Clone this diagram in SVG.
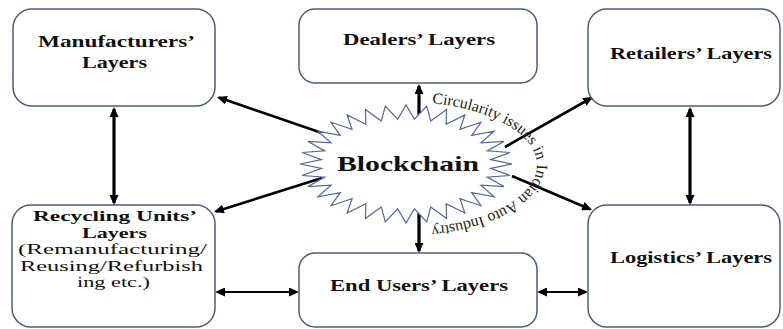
<svg xmlns="http://www.w3.org/2000/svg" width="783" height="329" viewBox="0 0 783 329">
  <style>
    .box { fill: #ffffff; stroke: #4a5d7e; stroke-width: 1.5; }
    .lbl { font-family: "Liberation Serif", "Times New Roman", serif; font-size: 17px; font-weight: bold; fill: #111; text-anchor: middle; }
    .lbs { font-family: "Liberation Serif", "Times New Roman", serif; font-size: 15.5px; font-weight: bold; fill: #111; text-anchor: middle; }
    .sub { font-family: "Liberation Serif", "Times New Roman", serif; font-size: 15.5px; fill: #111; text-anchor: middle; }
    .star { fill: #ffffff; stroke: #52699a; stroke-width: 1.2; stroke-linejoin: miter; }
    .hub { font-family: "Liberation Serif", "Times New Roman", serif; font-size: 22px; font-weight: bold; fill: #111; text-anchor: middle; }
    .ring { font-family: "Liberation Serif", "Times New Roman", serif; font-size: 15.8px; fill: #222; }
    .c { stroke: #000; fill: none; marker-end: url(#ah); }
    .cv { stroke-width: 3.2; }
    .ch { stroke-width: 2.2; }
    .cd { stroke-width: 2.6; }
    .both { marker-start: url(#ah); }
  </style>
  <defs>
    <marker id="ah" viewBox="0 0 10 9" markerWidth="10" markerHeight="9" refX="8" refY="4.5" orient="auto-start-reverse" markerUnits="userSpaceOnUse">
      <path d="M0,0 L10,4.5 L0,9 z" fill="#000"/>
    </marker>
    <path id="arc" d="M 406 102 A 131 63 0 0 1 406 228"/>
  </defs>
  <rect width="783" height="329" fill="#ffffff"/>

  <!-- connectors -->
  <g id="connectors">
    <line class="c cv both" x1="114" y1="109" x2="114" y2="203"/>
    <line class="c cv both" x1="690" y1="109" x2="690" y2="203"/>
    <line class="c cv" x1="419" y1="120" x2="419" y2="86"/>
    <line class="c cv" x1="419" y1="210" x2="419" y2="251"/>
    <line class="c cd" x1="322" y1="133" x2="218.9" y2="97.6"/>
    <line class="c cd" x1="322" y1="178" x2="215.9" y2="211.4"/>
    <line class="c cd" x1="505" y1="147" x2="591.3" y2="98"/>
    <line class="c cd" x1="512" y1="176" x2="590.2" y2="209.2"/>
    <line class="c ch both" x1="217" y1="292" x2="297" y2="292"/>
    <line class="c ch both" x1="539" y1="292" x2="586" y2="292"/>
  </g>

  <!-- central hub -->
  <g id="blockchain">
    <polygon class="star" transform="translate(406,164)" points="106,0 84.6,-4.4 104,-11.5 81.3,-13.1 97.9,-22.6 75,-21.2 88.1,-32.8 65.7,-28.6 75,-41.7 53.9,-34.8 58.9,-49.1 40.1,-39.7 40.6,-54.5 24.7,-43.1 20.7,-57.9 8.3,-44.8 0,-59 -8.3,-44.8 -20.7,-57.9 -24.7,-43.1 -40.6,-54.5 -40.1,-39.7 -58.9,-49.1 -53.9,-34.8 -75,-41.7 -65.7,-28.6 -88.1,-32.8 -75,-21.2 -97.9,-22.6 -81.3,-13.1 -104,-11.5 -84.6,-4.4 -106,0 -84.6,4.4 -104,11.5 -81.3,13.1 -97.9,22.6 -75,21.2 -88.1,32.8 -65.7,28.6 -75,41.7 -53.9,34.8 -58.9,49.1 -40.1,39.7 -40.6,54.5 -24.7,43.1 -20.7,57.9 -8.3,44.8 0,59 8.3,44.8 20.7,57.9 24.7,43.1 40.6,54.5 40.1,39.7 58.9,49.1 53.9,34.8 75,41.7 65.7,28.6 88.1,32.8 75,21.2 97.9,22.6 81.3,13.1 104,11.5 84.6,4.4"/>
    <text class="hub" x="408" y="171" textLength="142" lengthAdjust="spacingAndGlyphs">Blockchain</text>
  </g>

  <!-- curved caption around the hub, set in three runs along one arc -->
  <g id="ring-caption">
    <text class="ring"><textPath href="#arc" startOffset="26">Circularity issues</textPath></text>
    <text class="ring"><textPath href="#arc" startOffset="140.1">in Indian</textPath></text>
    <text class="ring"><textPath href="#arc" startOffset="200.7">Auto Industry</textPath></text>
  </g>

  <g id="manufacturers">
    <rect class="box" x="13" y="9" width="202" height="97" rx="19"/>
    <text class="lbl" x="116.5" y="47" textLength="157" lengthAdjust="spacingAndGlyphs">Manufacturers’</text>
    <text class="lbl" x="114.5" y="68" textLength="65" lengthAdjust="spacingAndGlyphs">Layers</text>
  </g>

  <g id="dealers">
    <rect class="box" x="299" y="9" width="238" height="74" rx="16"/>
    <text class="lbl" x="419" y="45" textLength="152" lengthAdjust="spacingAndGlyphs">Dealers’ Layers</text>
  </g>

  <g id="retailers">
    <rect class="box" x="588" y="9" width="192" height="97" rx="19"/>
    <text class="lbl" x="691" y="59" textLength="162" lengthAdjust="spacingAndGlyphs">Retailers’ Layers</text>
  </g>

  <g id="recycling">
    <rect class="box" x="12" y="205" width="203" height="122" rx="19"/>
    <text class="lbs" x="115" y="221" textLength="164" lengthAdjust="spacingAndGlyphs">Recycling Units’</text>
    <text class="lbs" x="114.5" y="237.5" textLength="65" lengthAdjust="spacingAndGlyphs">Layers</text>
    <text class="sub" x="112.5" y="254" textLength="189" lengthAdjust="spacingAndGlyphs">(Remanufacturing/</text>
    <text class="sub" x="111.5" y="270.5" textLength="183" lengthAdjust="spacingAndGlyphs">Reusing/Refurbish</text>
    <text class="sub" x="113.5" y="287" textLength="73" lengthAdjust="spacingAndGlyphs">ing etc.)</text>
  </g>

  <g id="end-users">
    <rect class="box" x="299" y="253" width="238" height="74" rx="16"/>
    <text class="lbl" x="419" y="291" textLength="178" lengthAdjust="spacingAndGlyphs">End Users’ Layers</text>
  </g>

  <g id="logistics">
    <rect class="box" x="588" y="205" width="192" height="122" rx="19"/>
    <text class="lbl" x="691" y="263" textLength="162" lengthAdjust="spacingAndGlyphs">Logistics’ Layers</text>
  </g>
</svg>
